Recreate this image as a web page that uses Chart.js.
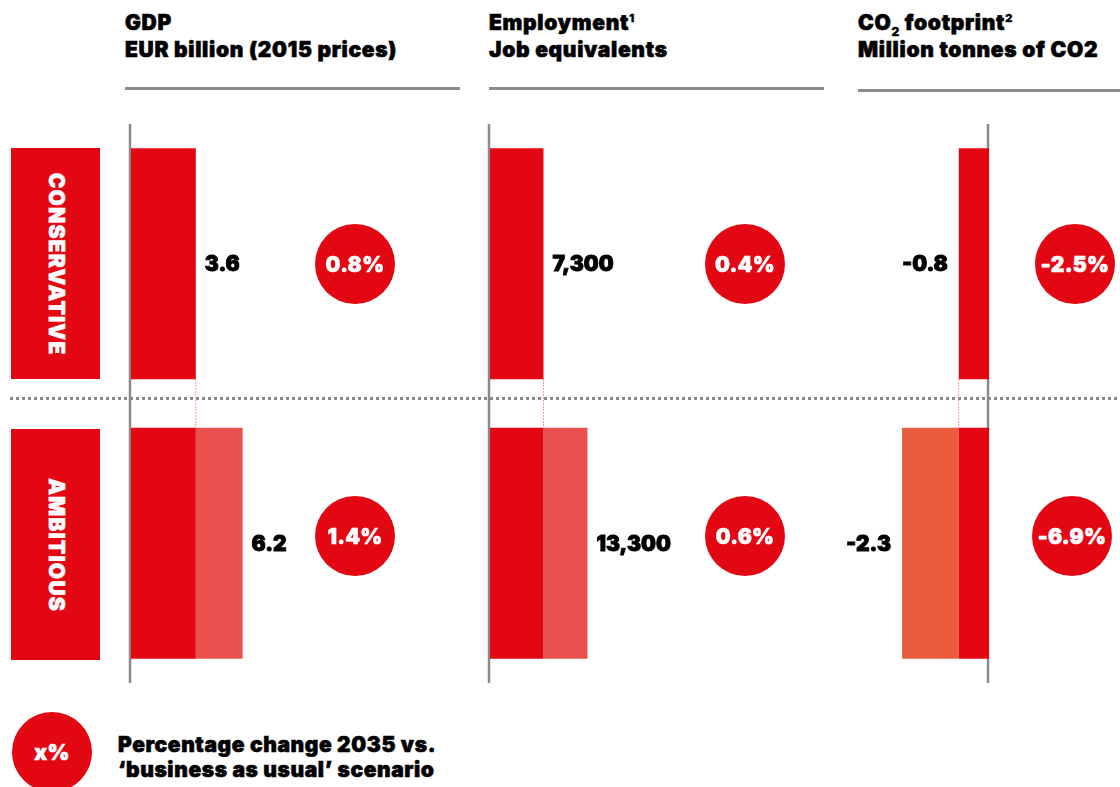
<!DOCTYPE html>
<html>
<head>
<meta charset="utf-8">
<script src="https://cdn.jsdelivr.net/npm/chart.js@4.4.0/dist/chart.umd.min.js"></script>
<style>
  html, body { margin:0; padding:0; background:#fff; }
  body { width:1120px; height:787px; position:relative; overflow:hidden;
         font-family:'Inter', 'Open Sans', 'DejaVu Sans', sans-serif; font-weight:900; color:#000; }
  .title { position:absolute; font-size:21px; line-height:27px; white-space:nowrap; letter-spacing:0.7px;
           -webkit-text-stroke:0.6px #000; }
  .hline { position:absolute; height:3px; background:#8c8c8c; }
  .sep { position:absolute; left:10px; width:1110px; top:397px; height:3px;
         background:repeating-linear-gradient(to right, #8a8a8a 0 3px, transparent 3px 6px); }
  .side { position:absolute; left:11px; width:89px; height:231px; background:#e30613; }
  .side span { position:absolute; left:50%; top:50%; color:#fff; font-size:21px; letter-spacing:1.2px;
               -webkit-text-stroke:0.6px #fff;
               transform:translate(-50%,-50%) rotate(90deg); white-space:nowrap; }
  .circle { position:absolute; width:80px; height:80px; border-radius:50%; background:#e30613;
            color:#fff; font-size:21px; display:flex; align-items:center; justify-content:center;
            -webkit-text-stroke:0.6px #fff; letter-spacing:0.3px;
            transform:translate(-50%,-50%); }
  canvas { position:absolute; }
  .legend { position:absolute; left:118px; top:732px; font-size:21px; line-height:25px; white-space:nowrap;
            letter-spacing:0.6px; -webkit-text-stroke:0.6px #000; }
  sup { font-size:11px; line-height:0; position:relative; top:-8px; vertical-align:baseline; -webkit-text-stroke:0.3px #000; }
  sub { font-size:12px; line-height:0; position:relative; top:6px; vertical-align:baseline; -webkit-text-stroke:0.3px #000; }
</style>
</head>
<body>
<div class="title" style="left:125px;top:9px;">GDP<br>EUR billion (2015 prices)</div>
<div class="title" style="left:489px;top:9px;">Employment<sup>1</sup><br>Job equivalents</div>
<div class="title" style="left:858px;top:9px;">CO<sub>2</sub> footprint<sup>2</sup><br>Million tonnes of CO2</div>
<div class="hline" style="left:125px;width:335px;top:87px;"></div>
<div class="hline" style="left:489px;width:335px;top:87px;"></div>
<div class="hline" style="left:858px;width:262px;top:89px;"></div>

<div class="side" style="top:148px;"><span id="sideCons"></span></div>
<div class="side" style="top:429px;"><span id="sideAmb"></span></div>
<div class="sep"></div>

<canvas id="gdp"></canvas>
<canvas id="emp"></canvas>
<canvas id="co2"></canvas>
<div id="circles"></div>

<div class="circle" style="left:52px;top:752px;">x%</div>
<div class="legend">Percentage change 2035 vs.<br>‘business as usual’ scenario</div>

<script>
// ---- data ----
const scenarios = ['CONSERVATIVE', 'AMBITIOUS'];
const gdpValues = [3.6, 6.2];
const employmentValues = [7300, 13300];
const co2Values = [-0.8, -2.3];
const gdpPctChange = [0.8, 1.4];
const employmentPctChange = [0.4, 0.6];
const co2PctChange = [-2.5, -6.9];

document.getElementById('sideCons').textContent = scenarios[0];
document.getElementById('sideAmb').textContent = scenarios[1];

const RED = '#e30613';
const CHART_TOP = 124, CHART_H = 559;
const FONT = "900 21px 'Inter', 'Open Sans', 'DejaVu Sans', sans-serif";

const panels = [
  { id:'gdp', values:gdpValues, pct:gdpPctChange, left:125, width:336, pxPerUnit:18, zeroAt:6,
    inc:'#ea504e', fmt:v=>v.toFixed(1), circleX:[355,355] },
  { id:'emp', values:employmentValues, pct:employmentPctChange, left:484, width:341, pxPerUnit:0.00733, zeroAt:6,
    inc:'#ea504e', fmt:v=>v.toLocaleString('en-US'), circleX:[745,745] },
  { id:'co2', values:co2Values, pct:co2PctChange, left:830, width:166, pxPerUnit:37.8, zeroAt:159,
    inc:'#e95d3d', fmt:v=>v.toFixed(1), circleX:[1075,1072] }
];

const decorPlugin = {
  id:'decor',
  beforeDatasetsDraw(chart) {
    const {ctx, chartArea:a, scales:{x}} = chart;
    const x0 = x.getPixelForValue(0);
    ctx.save();
    ctx.strokeStyle = '#8a8a8a'; ctx.lineWidth = 2.5;
    ctx.beginPath(); ctx.moveTo(x0 - 1, a.top); ctx.lineTo(x0 - 1, a.bottom); ctx.stroke();
    ctx.restore();
  },
  afterDatasetsDraw(chart, args, opts) {
    const {ctx, scales:{x, y}} = chart;
    const vals = opts.values;
    const meta = chart.getDatasetMeta(0);
    ctx.save();
    const bx = x.getPixelForValue(vals[0]);
    const b0 = meta.data[0], b1 = meta.data[1];
    const y0 = b0.y + b0.height / 2, y1 = b1.y - b1.height / 2;
    ctx.strokeStyle = '#f07a7a'; ctx.lineWidth = 1; ctx.setLineDash([1.5, 1.5]);
    ctx.beginPath(); ctx.moveTo(bx, y0); ctx.lineTo(bx, y1); ctx.stroke();
    ctx.setLineDash([]);
    ctx.fillStyle = '#000'; ctx.strokeStyle = '#000'; ctx.lineWidth = 0.9;
    ctx.font = FONT;
    ctx.textBaseline = 'middle';
    vals.forEach((v, i) => {
      const px = x.getPixelForValue(v);
      const py = y.getPixelForValue(i) + 1;
      const t = opts.fmt(v);
      let tx;
      if (v >= 0) { ctx.textAlign = 'left'; tx = px + 9; }
      else { ctx.textAlign = 'right'; tx = px - 11; }
      ctx.fillText(t, tx, py); ctx.strokeText(t, tx, py);
    });
    ctx.restore();
  }
};

const circleBox = document.getElementById('circles');
const circleY = [264, 536];

panels.forEach(p => {
  const cv = document.getElementById(p.id);
  cv.width = p.width; cv.height = CHART_H;
  cv.style.left = p.left + 'px'; cv.style.top = CHART_TOP + 'px';
  cv.style.width = p.width + 'px'; cv.style.height = CHART_H + 'px';
  const xmin = -p.zeroAt / p.pxPerUnit;
  const xmax = (p.width - p.zeroAt) / p.pxPerUnit;
  const base = [p.values[0], p.values[0]];
  const inc = [0, p.values[1] - p.values[0]];
  new Chart(cv, {
    type:'bar',
    data:{ labels:scenarios, datasets:[
      { data:base, backgroundColor:RED, borderWidth:0 },
      { data:inc, backgroundColor:p.inc, borderWidth:0 }
    ]},
    options:{
      indexAxis:'y', responsive:false, animation:false, devicePixelRatio:1,
      layout:{ padding:0 },
      barPercentage:1, categoryPercentage:0.826,
      scales:{
        x:{ type:'linear', min:xmin, max:xmax, stacked:true, display:false },
        y:{ stacked:true, display:false }
      },
      plugins:{ legend:{display:false}, tooltip:{enabled:false},
                decor:{ values:p.values, fmt:p.fmt } }
    },
    plugins:[decorPlugin]
  });
  p.pct.forEach((v, i) => {
    const d = document.createElement('div');
    d.className = 'circle';
    d.style.left = p.circleX[i] + 'px'; d.style.top = circleY[i] + 'px';
    d.textContent = v.toFixed(1) + '%';
    circleBox.appendChild(d);
  });
});
</script>
</body>
</html>
